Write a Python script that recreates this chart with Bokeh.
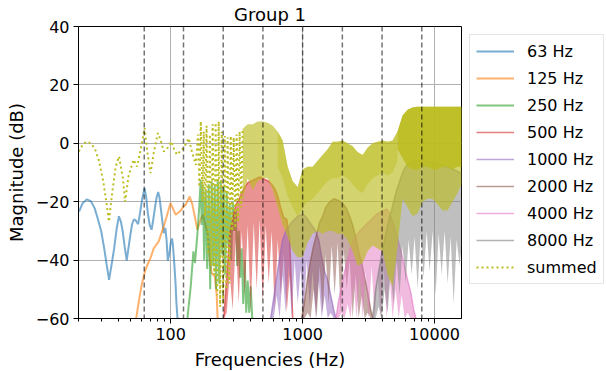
from bokeh.plotting import figure
from bokeh.models import Range1d, Span, Legend, LegendItem, FixedTicker
from bokeh.embed import file_html
from bokeh.resources import INLINE

# ---------------- data ----------------
centers = [63, 125, 250, 500, 1000, 2000, 4000, 8000]
band_labels = ["63 Hz", "125 Hz", "250 Hz", "500 Hz", "1000 Hz", "2000 Hz", "4000 Hz", "8000 Hz"]
x_major = [100, 1000, 10000]
x_minor = [20, 30, 40, 50, 60, 70, 80, 90, 200, 300, 400, 500, 600, 700, 800, 900,
           2000, 3000, 4000, 5000, 6000, 7000, 8000, 9000]
y_major = [-60, -40, -20, 0, 20, 40]
y_labels = ["\u221260", "\u221240", "\u221220", "0", "20", "40"]

f_63 = [20.2, 21.5, 23.1, 24.8, 26.5, 27.9, 29.7, 31.3, 32.8, 34.1, 35.5, 37.3, 39.0, 40.5, 41.9,
        43.2, 44.8, 46.4, 47.8, 49.2, 50.9, 52.6, 54.5, 56.6, 58.5, 60.8, 63.4, 65.2, 67.1, 69.3,
        71.6, 73.8, 76.0, 78.2, 80.4, 82.2, 84.0, 86.3, 88.6, 91.0, 93.0, 95.0, 97.5, 100.0, 102.3,
        104.0, 106.0, 108.5, 110.6, 113.5]
db_63 = [-23.4, -20.5, -19.2, -19.8, -22.2, -25.6, -30.0, -35.9, -42.0, -46.8, -42.0, -35.9, -29.0, -25.0, -26.8,
         -30.0, -35.5, -40.2, -36.0, -32.0, -27.8, -26.0, -26.5, -27.7, -24.0, -19.0, -15.4, -18.5, -24.0, -28.0,
         -29.6, -26.0, -22.0, -18.5, -16.7, -18.5, -22.0, -26.5, -30.8, -29.0, -33.0, -40.2, -38.0, -34.0, -32.6,
         -35.0, -40.0, -47.0, -55.0, -62.0]

f_125 = [54.3, 58.3, 60.6, 64.3, 70.6, 74.3, 81.1, 88.5, 93.3, 99.5, 104.4, 109.1, 119.0, 124.8, 130.2,
         139.3, 146.0, 159.4, 168.8, 174.8, 181.0, 190.7, 197.5, 204.5, 215.5, 223.2, 227.1]
db_125 = [-61.0, -52.0, -48.0, -43.3, -39.0, -36.0, -33.6, -28.5, -25.0, -20.5, -22.5, -24.5, -23.1, -21.6, -21.0,
          -18.2, -21.0, -29.6, -26.0, -24.5, -27.0, -31.0, -40.0, -44.5, -45.5, -52.0, -61.0]

f_250 = [133.8, 141.8, 148.6, 152.8, 159.4, 164.4, 168.8, 171.8, 174.8, 179.4, 184.2, 189.0, 194.1, 199.2,
         204.5, 209.9, 215.5, 221.2, 227.1, 233.1, 239.3, 245.6, 252.2, 258.9, 265.7, 272.8, 280.0, 287.4,
         295.1, 302.9, 311.0, 319.2, 327.7, 336.4, 345.3, 354.5, 363.8, 373.5, 383.4, 393.5, 404.0, 416.0]
db_250 = [-60.0, -49.0, -37.0, -41.0, -31.0, -22.0, -12.5, -28.0, -14.0, -40.0, -16.0, -43.0, -14.0, -50.0,
          -13.0, -42.0, -14.0, -50.0, -12.5, -48.0, -13.0, -38.0, -15.0, -45.0, -16.5, -35.0, -21.0, -40.0,
          -20.0, -30.0, -23.0, -42.0, -30.0, -46.0, -36.0, -55.0, -40.0, -58.0, -47.0, -58.0, -49.0, -61.0]

f_500 = [252.2, 265.7, 280.0, 295.1, 311.0, 327.7, 345.3, 363.8, 383.4, 404.0, 425.7, 448.6,
         472.7, 498.1, 524.9, 553.2, 582.9, 614.3, 647.3, 682.1, 718.8, 757.5, 798.2, 841.2]
top_500 = [-60, -46, -31, -26, -21, -19.5, -17, -15, -13.5, -13, -12.5, -12,
           -11.5, -12, -12.5, -13, -14, -15.5, -18, -22, -25.5, -26, -33, -60]
bot_500 = [-60, -58, -45, -57, -33, -55, -30, -52, -28, -58, -27, -50,
           -26, -55, -28, -48, -30, -58, -33, -52, -38, -58, -45, -60]

f_1000 = [572.3, 603.1, 635.5, 669.7, 705.7, 743.7, 783.7, 825.9, 870.3, 917.1, 966.4, 1018,
          1073, 1131, 1192, 1256, 1324, 1395, 1470, 1549, 1632, 1720, 1813]
top_1000 = [-60, -53, -46, -39, -33, -30, -28.5, -27, -26, -25, -24.5, -24.5,
            -25.5, -27, -28.5, -30, -33, -39, -44, -47, -52, -57, -61]
bot_1000 = [-60, -60, -52, -60, -45, -58, -42, -60, -40, -55, -43, -60,
            -40, -56, -44, -60, -47, -60, -52, -60, -58, -60, -61]

f_2000 = [982.7, 1036, 1091, 1150, 1212, 1277, 1346, 1418, 1495, 1575, 1660, 1749, 1843,
          1942, 2047, 2157, 2273, 2395, 2524, 2660, 2803, 2954, 3113, 3280, 3457]
top_2000 = [-60, -54, -46, -40, -35, -31, -27, -25, -22, -20.5, -19.5, -19, -19.5,
            -20, -21, -22.5, -25, -28, -32, -37, -41, -46, -51, -57, -61]
bot_2000 = [-60, -60, -58, -60, -50, -60, -42, -58, -38, -55, -35, -52, -34,
            -58, -36, -50, -40, -60, -45, -60, -52, -60, -58, -60, -61]

f_4000 = [1778, 1874, 1975, 2081, 2193, 2311, 2435, 2566, 2704, 2850, 3003, 3165, 3335, 3514,
          3703, 3903, 4113, 4334, 4567, 4813, 5072, 5345, 5632, 5935, 6255, 6591, 6946, 7320]
top_4000 = [-61, -54, -49, -44, -40, -36, -33, -31.5, -30, -29, -28, -27, -26, -25,
            -24, -23.5, -23, -22.5, -24, -27, -30, -34, -38, -42.5, -47, -51, -57, -61]
bot_4000 = [-61, -60, -58, -60, -55, -60, -48, -60, -45, -60, -44, -60, -42, -60,
            -45, -60, -43, -60, -46, -60, -50, -60, -52, -60, -58, -60, -60, -61]

f_8000 = [3391, 3573, 3766, 3968, 4181, 4406, 4643, 4893, 5156, 5433, 5726, 6034, 6358, 6700, 7061,
          7441, 7841, 8263, 8707, 9176, 9669, 10189, 10737, 11315, 11924, 12565, 13241, 13953, 14704,
          15495, 16000]
top_8000 = [-60, -50, -44, -38, -33, -28, -24, -20, -16, -13, -10, -8, -7, -6.5, -6,
            -6, -6, -6, -6, -6.5, -6.5, -7, -7, -7.5, -8, -8, -8.5, -9, -9.5,
            -10, -10]
bot_8000 = [-60, -60, -56, -60, -50, -58, -45, -55, -40, -52, -35, -48, -33, -45, -32,
            -50, -31, -46, -30, -44, -30, -52, -31, -45, -30, -48, -32, -55, -33,
            -42, -35]

f_sum_line = [20.1, 21.5, 23.0, 24.8, 26.7, 28.6, 30.8, 32.5, 34.0, 36.0, 38.3, 40.6, 43.4, 45.1, 48.0,
              52.3, 55.5, 59.3, 63.4, 66.5, 70.3, 74.5, 79.9, 84.0, 88.5, 95.0, 101.2, 106.0, 111.5, 119.0,
              125.0, 137.0, 145.0, 155.0, 161.0, 165.0, 169.0, 174.0, 178.0, 182.0, 187.0, 192.0, 198.0,
              203.0, 208.0, 214.0, 219.0, 225.0, 231.0, 237.0, 243.5, 250.0, 257.0, 264.0, 270.0, 278.0,
              285.0, 292.0, 300.0, 309.0, 316.0, 325.0, 333.0, 342.0, 351.0]
db_sum_line = [-2.8, -0.5, 0.6, 0.0, -2.0, -6.0, -13.0, -20.0, -26.8, -17.0, -8.0, -4.5, -12.0, -20.0, -11.0,
               -5.6, -8.0, -2.0, 5.2, -3.0, -10.2, -3.0, 3.5, 1.0, -2.8, -1.5, 0.6, -2.0, -3.9, -2.5,
               -1.7, 1.7, -3.0, -7.4, 3.0, -15.0, 7.5, -20.0, 4.0, -25.0, 6.0, -38.0, 3.0,
               -42.0, 6.5, -45.0, 7.0, -52.0, 7.5, -56.0, 4.0, -55.0, 2.5, -50.0, 2.0, -48.0,
               2.5, -30.0, 2.0, -29.0, 3.0, -27.0, 4.0, -22.0, 5.0]

f_sum_band = [351.4, 383.4, 418.3, 456.4, 498.0, 543.4, 592.9, 646.9, 705.8, 770.1, 840.3, 916.8, 1000,
              1091, 1191, 1299, 1417, 1547, 1688, 1841, 2009, 2192, 2392, 2610, 2848, 3107, 3390, 3699,
              4036, 4404, 4805, 5243, 5721, 6242, 6811, 7431, 8108, 8847, 9653, 10532, 11492, 12539,
              13681, 14928, 16000]
sum_top = [5, 6.5, 6.5, 7.5, 7.5, 7, 6, 4, 1, -8, -13, -15, -9,
           -8, -8, -6, -4, -2, 0.5, 0.5, 1, 0, -1, -3, -4, -1.5, 0, 0.5,
           1, 0.5, 1, 4, 9.5, 11.5, 12.3, 12.5, 12.5, 12.5, 12.5, 12.5, 12.5, 12.5,
           12.5, 12.5, 12.5]
sum_bot = [-20, -12, -16, -13, -12, -12, -16, -22, -28, -32, -37, -39, -39,
           -34, -31, -30, -31, -30, -30, -31, -31, -33, -37, -42, -41, -37, -35, -36,
           -37, -45, -49, -35, -19, -22, -25, -24, -20, -19, -19, -21, -23, -23,
           -20, -17, -14]

f_sum_mid = [646.9, 705.8, 770.1, 840.3, 916.8, 1000, 1091, 1191, 1299, 1417, 1547, 1688, 1841, 2009,
             2192, 2392, 2610, 2848, 3107, 3390, 3699, 4036, 4404, 4805, 5243]
mid_top = [4, 1, -8, -13, -15, -9, -8, -8, -6, -4, -2, 0.5, 0.5, 1,
           0, -1, -3, -4, -1.5, 0, 0.5, 1, 0.5, 1, 4]
mid_bot = [-8, -12, -18, -22, -25, -22, -20, -19, -17, -15, -13, -12, -12, -11,
           -12, -14, -16, -17, -14, -12, -11, -10, -11, -10, -6]

f_sum_core = [5243, 5721, 6242, 6811, 7431, 8108, 8847, 9653, 10532, 11492, 12539, 13681, 14928, 16000]
core_top = [4, 9.5, 11.5, 12.3, 12.5, 12.5, 12.5, 12.5, 12.5, 12.5, 12.5, 12.5, 12.5, 12.5]
core_bot = [-2, -5, -8, -9, -9, -8, -8, -9, -9, -8, -8, -9, -8, -8]

# ---------------- figure ----------------
FONT = "DejaVu Sans"
colors = ["#1f77b4", "#ff7f0e", "#2ca02c", "#d62728", "#9467bd", "#8c564b", "#e377c2", "#7f7f7f"]
olive = "#bcbd22"
ALPHA = 0.6

p = figure(frame_width=383, frame_height=292, x_axis_type="log",
           x_range=Range1d(20, 16000), y_range=Range1d(-60, 40),
           output_backend="svg", toolbar_location=None,
           min_border_left=78, min_border_top=25, min_border_bottom=54, min_border_right=0,
           title="Group 1")
p.background_fill_color = "white"
p.border_fill_color = "white"
p.outline_line_color = "black"
p.outline_line_width = 1
p.outline_line_alpha = 1

p.title.text_font = FONT
p.title.text_font_size = "18px"
p.title.text_font_style = "normal"
p.title.align = "center"
p.title.text_color = "black"
p.title.standoff = 3

p.xaxis.ticker = FixedTicker(ticks=x_major, minor_ticks=x_minor)
p.xaxis.major_label_overrides = {v: str(v) for v in x_major}
p.yaxis.ticker = FixedTicker(ticks=y_major)
p.yaxis.major_label_overrides = dict(zip(y_major, y_labels))
p.xaxis.axis_label = "Frequencies (Hz)"
p.yaxis.axis_label = "Magnitude (dB)"
for ax in (p.xaxis, p.yaxis):
    ax.axis_label_text_font = FONT
    ax.axis_label_text_font_size = "18px"
    ax.axis_label_text_font_style = "normal"
    ax.axis_label_text_color = "black"
    ax.major_label_text_font = FONT
    ax.major_label_text_font_size = "16px"
    ax.major_label_text_color = "black"
    ax.axis_line_color = "black"
    ax.major_tick_line_color = "black"
    ax.major_tick_in = 0
    ax.major_tick_out = 5
    ax.axis_label_standoff = 6
    ax.major_label_standoff = 4
p.xaxis.minor_tick_in = 0
p.xaxis.minor_tick_out = 3
p.xaxis.minor_tick_line_color = "black"
p.yaxis.minor_tick_line_color = None

p.xgrid.grid_line_color = "#b0b0b0"
p.ygrid.grid_line_color = "#b0b0b0"
p.xgrid.grid_line_width = 1
p.ygrid.grid_line_width = 1

legend_renderers = []
r = p.line(f_63, db_63, line_color=colors[0], line_alpha=ALPHA, line_width=2)
legend_renderers.append(r)
r = p.line(f_125, db_125, line_color=colors[1], line_alpha=ALPHA, line_width=2)
legend_renderers.append(r)
r = p.line(f_250, db_250, line_color=colors[2], line_alpha=ALPHA, line_width=2)
legend_renderers.append(r)

dense = [(f_500, top_500, bot_500), (f_1000, top_1000, bot_1000), (f_2000, top_2000, bot_2000),
         (f_4000, top_4000, bot_4000), (f_8000, top_8000, bot_8000)]
for (ff, tt, bb), c in zip(dense, colors[3:]):
    p.varea(x=ff, y1=bb, y2=tt, fill_color=c, fill_alpha=0.5)
    rl = p.line(ff, tt, line_color=c, line_alpha=ALPHA, line_width=1.5)
    legend_renderers.append(rl)

p.varea(x=f_sum_band, y1=sum_bot, y2=sum_top, fill_color=olive, fill_alpha=0.65)
p.varea(x=f_sum_mid, y1=mid_bot, y2=mid_top, fill_color=olive, fill_alpha=0.45)
p.varea(x=f_sum_core, y1=core_bot, y2=core_top, fill_color=olive, fill_alpha=0.9)
rs = p.line(f_sum_line, db_sum_line, line_color=olive, line_width=2, line_dash="2 3")
legend_renderers.append(rs)

for c in centers:
    p.add_layout(Span(location=c, dimension="height", line_color="black", line_alpha=0.55,
                      line_dash="5 3", line_width=1.5))

items = [LegendItem(label=l, renderers=[r]) for l, r in zip(band_labels + ["summed"], legend_renderers)]
legend = Legend(items=items, location="top_left")
legend.label_text_font = FONT
legend.label_text_font_size = "16px"
legend.label_text_color = "black"
legend.glyph_width = 38
legend.glyph_height = 20
legend.label_height = 20
legend.label_standoff = 13
legend.spacing = 7
legend.padding = 6
legend.margin = 8
legend.border_line_color = "#cccccc"
legend.border_line_width = 1
legend.background_fill_alpha = 1
p.add_layout(legend, "right")

open("out.html", "w").write(file_html(p, INLINE))
